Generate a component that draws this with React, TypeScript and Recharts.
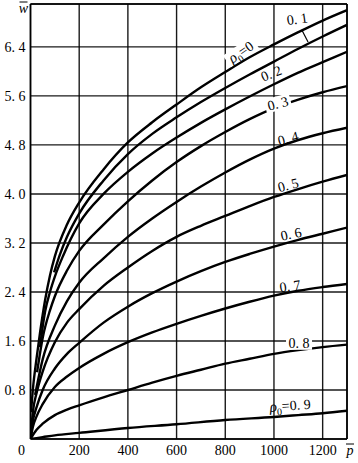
import { LineChart, Line, XAxis, YAxis, CartesianGrid, ReferenceLine, ReferenceDot } from 'recharts';

// p-bar / w-bar readings for each rho0 curve
const p00 = [2, 10, 25, 40, 60, 80, 100, 150, 200, 300, 400, 500, 600, 700, 800, 900, 1000, 1100, 1200, 1300];
const w00 = [0.44, 0.82, 1.32, 1.76, 2.27, 2.67, 2.98, 3.5, 3.86, 4.4, 4.84, 5.17, 5.46, 5.74, 5.99, 6.23, 6.44, 6.64, 6.83, 7.0];
const p01 = [97, 120, 150, 200, 300, 400, 500, 600, 700, 800, 900, 1000, 1100, 1200, 1300];
const w01 = [2.72, 3.0, 3.3, 3.68, 4.22, 4.65, 4.98, 5.25, 5.5, 5.73, 5.95, 6.16, 6.37, 6.57, 6.76];
const p02 = [39, 50, 60, 80, 100, 135, 200, 300, 400, 500, 600, 700, 800, 900, 1000, 1100, 1200, 1300];
const w02 = [1.5, 1.83, 2.08, 2.4, 2.65, 3.0, 3.52, 4.0, 4.36, 4.66, 4.92, 5.16, 5.38, 5.59, 5.79, 5.98, 6.15, 6.32];
const p03 = [27, 50, 80, 100, 150, 200, 300, 400, 500, 600, 700, 800, 900, 1000, 1100, 1200, 1300];
const w03 = [1.09, 1.65, 2.1, 2.33, 2.75, 3.07, 3.5, 3.88, 4.22, 4.52, 4.78, 5.01, 5.22, 5.4, 5.54, 5.66, 5.76];
const p04 = [19, 50, 100, 150, 200, 300, 400, 500, 600, 700, 800, 900, 1000, 1100, 1200, 1300];
const w04 = [0.72, 1.3, 1.85, 2.25, 2.55, 2.95, 3.3, 3.6, 3.87, 4.12, 4.35, 4.56, 4.74, 4.88, 4.99, 5.08];
const p05 = [0, 10, 25, 50, 100, 150, 200, 300, 400, 500, 600, 700, 800, 900, 1000, 1100, 1200, 1300];
const w05 = [0, 0.45, 0.75, 1.1, 1.58, 1.9, 2.12, 2.5, 2.8, 3.07, 3.3, 3.48, 3.64, 3.8, 3.95, 4.08, 4.2, 4.31];
const p06 = [0, 10, 25, 50, 100, 150, 200, 300, 400, 500, 600, 700, 800, 900, 1000, 1100, 1200, 1300];
const w06 = [0, 0.3, 0.52, 0.8, 1.15, 1.39, 1.57, 1.9, 2.16, 2.38, 2.57, 2.74, 2.89, 3.02, 3.14, 3.25, 3.35, 3.45];
const p07 = [0, 10, 25, 50, 100, 150, 200, 300, 400, 500, 600, 700, 800, 900, 1000, 1100, 1200, 1300];
const w07 = [0, 0.2, 0.37, 0.57, 0.85, 1.02, 1.16, 1.39, 1.58, 1.74, 1.88, 2.01, 2.13, 2.24, 2.34, 2.42, 2.48, 2.53];
const p08 = [0, 25, 50, 100, 150, 200, 300, 400, 500, 600, 700, 800, 900, 1000, 1100, 1200, 1300];
const w08 = [0, 0.15, 0.25, 0.39, 0.48, 0.55, 0.68, 0.8, 0.92, 1.03, 1.13, 1.23, 1.31, 1.39, 1.45, 1.5, 1.54];
const p09 = [0, 50, 100, 200, 400, 600, 800, 1000, 1100, 1200, 1300];
const w09 = [0, 0.03, 0.06, 0.1, 0.18, 0.24, 0.31, 0.36, 0.39, 0.42, 0.46];

const xTicks = [0, 200, 400, 600, 800, 1000, 1200];
const yTicks = [0.8, 1.6, 2.4, 3.2, 4.0, 4.8, 5.6, 6.4];

const curves = [
  [p00, w00], [p01, w01], [p02, w02], [p03, w03], [p04, w04],
  [p05, w05], [p06, w06], [p07, w07], [p08, w08], [p09, w09],
].map(([ps, ws]) => ps.map((p, i) => ({ p, w: ws[i] })));

// curve labels: text, anchor in data units, rotation, white backing
const labels = [
  { text: '0', rho: true, p: 864, w: 6.32, rot: -35, bg: true },
  { text: '0. 1', p: 1095, w: 6.86, rot: -8 },
  { text: '0. 2', p: 988, w: 5.97, rot: -22 },
  { text: '0. 3', p: 1016, w: 5.48, rot: -15, bg: true },
  { text: '0. 4', p: 1058, w: 4.91, rot: -15 },
  { text: '0. 5', p: 1058, w: 4.15, rot: -15 },
  { text: '0. 6', p: 1070, w: 3.35, rot: -12 },
  { text: '0. 7', p: 1066, w: 2.5, rot: -8 },
  { text: '0. 8', p: 1103, w: 1.57, rot: 0, bg: true },
  { text: '0. 9', rho: true, p: 1066, w: 0.55, rot: -4 },
];

const FONT = '"Liberation Serif", "DejaVu Serif", serif';

const fmt = (v: number) => v.toFixed(1).replace('.', '. ');

const XTick = ({ x, y, payload }: any) => (
  <text x={payload.value === 0 ? x - 9 : x} y={y} dy={16} textAnchor="middle" fontSize={14} fontFamily={FONT} fill="#000">
    {payload.value}
  </text>
);

const YTick = ({ x, y, payload }: any) => (
  <text x={x - 5} y={y} dy={5} textAnchor="end" fontSize={14} fontFamily={FONT} fill="#000">
    {fmt(payload.value)}
  </text>
);

const CurveLabel = ({ viewBox, item }: any) => {
  const { x, y } = viewBox;
  const width = item.rho ? (item.text.length > 1 ? 48 : 32) : 24;
  return (
    <g transform={`translate(${x},${y}) rotate(${item.rot})`}>
      {item.bg && <rect x={-width / 2 - 1} y={-7} width={width + 2} height={14} fill="#fff" />}
      <text textAnchor="middle" dy={5} fontSize={14} fontFamily={FONT} fill="#000">
        {item.rho ? (
          <>
            <tspan fontStyle="italic" fontSize={15}>ρ</tspan>
            <tspan fontSize={10} dy={4}>0</tspan>
            <tspan dy={-4}>{'=' + item.text}</tspan>
          </>
        ) : (
          item.text
        )}
      </text>
    </g>
  );
};

const AxisName = ({ viewBox, name, dx, dy }: any) => {
  const x = viewBox.x + dx;
  const y = viewBox.y + dy;
  return (
    <g>
      <text x={x} y={y} textAnchor="middle" fontSize={14} fontStyle="italic" fontFamily={FONT} fill="#000">
        {name}
      </text>
      <line x1={x - 4} x2={x + 4} y1={y - 11} y2={y - 11} stroke="#000" strokeWidth={1} />
    </g>
  );
};

export default function App() {
  return (
    <div style={{ position: 'absolute', left: 0, top: 0, width: 358, height: 463, background: '#fff' }}>
      <LineChart width={358} height={463} margin={{ top: 4, right: 11, bottom: 0, left: 0 }}>
        <CartesianGrid stroke="#000" strokeWidth={1.4} strokeOpacity={0.9} />
        <XAxis
          dataKey="p"
          type="number"
          domain={[0, 1300]}
          ticks={xTicks}
          height={24}
          tickSize={0}
          tickMargin={0}
          tickLine={false}
          axisLine={{ stroke: '#000', strokeWidth: 1.6 }}
          tick={<XTick />}
          allowDataOverflow
        />
        <YAxis
          dataKey="w"
          type="number"
          domain={[0, 7.1]}
          ticks={yTicks}
          width={30.5}
          tickSize={0}
          tickMargin={0}
          tickLine={false}
          axisLine={{ stroke: '#000', strokeWidth: 1.6 }}
          tick={<YTick />}
          allowDataOverflow
        />
        <ReferenceLine y={7.1} stroke="#000" strokeWidth={1.6} />
        <ReferenceLine x={1300} stroke="#000" strokeWidth={1.6} />
        {curves.map((d, i) => (
          <Line
            key={i}
            data={d}
            dataKey="w"
            type="monotone"
            stroke="#000"
            strokeWidth={2.4}
            dot={false}
            isAnimationActive={false}
          />
        ))}
        <ReferenceLine
          segment={[{ x: 1114, y: 6.68 }, { x: 1140, y: 6.48 }]}
          stroke="#000"
          strokeWidth={1.2}
        />
        {labels.map((item, i) => (
          <ReferenceDot
            key={'l' + i}
            x={item.p}
            y={item.w}
            r={0}
            fill="none"
            stroke="none"
            label={(props: any) => <CurveLabel {...props} item={item} />}
          />
        ))}
        <ReferenceDot x={0} y={7.1} r={0} fill="none" stroke="none" label={(props: any) => <AxisName {...props} name="w" dx={-7} dy={9} />} />
        <ReferenceDot x={1300} y={0} r={0} fill="none" stroke="none" label={(props: any) => <AxisName {...props} name="p" dx={3} dy={16} />} />
      </LineChart>
    </div>
  );
}
